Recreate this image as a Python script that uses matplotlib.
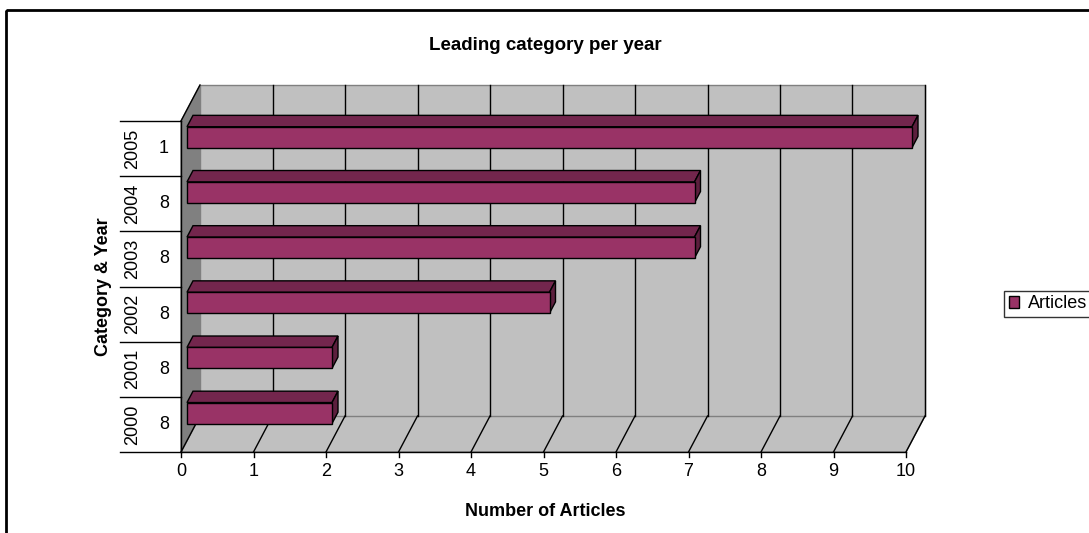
import matplotlib
matplotlib.use("Agg")
import matplotlib.pyplot as plt
from matplotlib.patches import Polygon, Rectangle, Patch

plt.rcParams['font.family'] = ['Liberation Sans', 'DejaVu Sans']

# ---- data ----
years = ["2000", "2001", "2002", "2003", "2004", "2005"]
categories = ["8", "8", "8", "8", "8", "1"]
articles = [2, 2, 5, 7, 7, 10]
x_ticks = list(range(0, 11))
title = "Leading category per year"
x_label = "Number of Articles"
y_label = "Category & Year"
legend_label = "Articles"

W, H = 1089, 533
fig = plt.figure(figsize=(W / 100, H / 100), dpi=100)

# background axes in pixel coords for frame
bg = fig.add_axes([0, 0, 1, 1])
bg.set_xlim(0, W)
bg.set_ylim(H, 0)
bg.axis('off')
bg.add_patch(Rectangle((6, 10), W + 20, H + 20, fill=False, ec='black', lw=2))

# main axes: front plane of 3D box
left_px, right_px = 181, 906
bot_px, top_px = 452, 121
ax = fig.add_axes([left_px / W, (H - bot_px) / H, (right_px - left_px) / W, (bot_px - top_px) / H])
nmax = 10
ncat = len(years)
ax.set_xlim(0, nmax)
ax.set_ylim(0, ncat)
ax.axis('off')

px_x = (right_px - left_px) / nmax
px_y = (bot_px - top_px) / ncat
DX = 19 / px_x
DY = 36 / px_y

wall = '#C0C0C0'
side = '#808080'
edge = '#808080'

# floor
ax.add_patch(Polygon([(0, 0), (nmax, 0), (nmax + DX, DY), (DX, DY)], closed=True,
                     fc=wall, ec=edge, lw=1, clip_on=False, zorder=1))
# back wall
ax.add_patch(Polygon([(DX, DY), (nmax + DX, DY), (nmax + DX, ncat + DY), (DX, ncat + DY)], closed=True,
                     fc=wall, ec=edge, lw=1, clip_on=False, zorder=1))
# side wall
ax.add_patch(Polygon([(0, 0), (DX, DY), (DX, ncat + DY), (0, ncat)], closed=True,
                     fc=side, ec=edge, lw=1, clip_on=False, zorder=1))
ax.plot([0, DX], [ncat, ncat + DY], color='black', lw=1, clip_on=False, zorder=2)

# gridlines on wall and floor
for t in x_ticks[1:]:
    ax.plot([t + DX, t + DX], [DY, ncat + DY], color='black', lw=1, clip_on=False, zorder=2)
for t in x_ticks:
    ax.plot([t, t + DX], [0, DY], color='black', lw=1, clip_on=False, zorder=2)

# bars
f1, f2 = 6 / 19, 12 / 19
hh = 10.5 / px_y
c_front = '#993366'
c_top = '#73264D'
c_side = '#5C1F3D'
for i, v in enumerate(articles):
    c = i + 0.5
    y0f, y1f = c - hh + f1 * DY, c + hh + f1 * DY
    y0b, y1b = c - hh + f2 * DY, c + hh + f2 * DY
    x0f, x1f = f1 * DX, v + f1 * DX
    x0b, x1b = f2 * DX, v + f2 * DX
    ax.add_patch(Polygon([(x0f, y1f), (x1f, y1f), (x1b, y1b), (x0b, y1b)], closed=True,
                         fc=c_top, ec='black', lw=1, clip_on=False, zorder=3))
    ax.add_patch(Polygon([(x1f, y0f), (x1b, y0b), (x1b, y1b), (x1f, y1f)], closed=True,
                         fc=c_side, ec='black', lw=1, clip_on=False, zorder=3))
    ax.add_patch(Polygon([(x0f, y0f), (x1f, y0f), (x1f, y1f), (x0f, y1f)], closed=True,
                         fc=c_front, ec='black', lw=1, clip_on=False, zorder=3))

# axes lines
ax.plot([0, nmax], [0, 0], color='black', lw=1, clip_on=False, zorder=4)
ax.plot([0, 0], [0, ncat], color='black', lw=1, clip_on=False, zorder=4)
tick_len = 5 / px_y
for t in x_ticks:
    ax.plot([t, t], [0, -tick_len], color='black', lw=1, clip_on=False, zorder=4)
    ax.text(t, -20 / px_y, str(t), ha='center', va='center', fontsize=13, clip_on=False)

# category dividers and labels
div_left = -61 / px_x
for k in range(ncat + 1):
    ax.plot([div_left, 0], [k, k], color='black', lw=1, clip_on=False, zorder=4)
for i, (yr, cat) in enumerate(zip(years, categories)):
    ax.text(-17 / px_x, i + 0.5, cat, rotation=0, ha='center', va='center', fontsize=13)
    ax.text(-48 / px_x, i + 0.5, yr, rotation=90, ha='center', va='center', fontsize=13)

# titles
bg.text(545, 45, title, ha='center', va='center', fontsize=13.5, fontweight='bold')
bg.text(545, 511, x_label, ha='center', va='center', fontsize=13, fontweight='bold')
bg.text(103, 287, y_label, ha='center', va='center', rotation=90, fontsize=13, fontweight='bold')

# legend
leg = fig.legend(handles=[Patch(fc=c_front, ec='black', lw=1, label=legend_label)],
                 loc='center left', bbox_to_anchor=(1004 / W, (H - 304) / H),
                 frameon=True, fancybox=False, fontsize=13, borderaxespad=0,
                 handlelength=0.6, handleheight=0.6, handletextpad=0.5, borderpad=0.25)
leg.get_frame().set_edgecolor('black')
leg.get_frame().set_linewidth(1)

fig.savefig('out.png', dpi=100)
